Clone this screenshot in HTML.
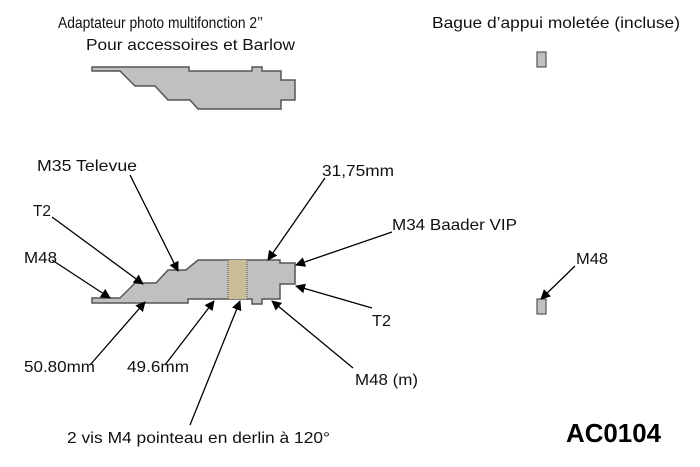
<!DOCTYPE html>
<html><head><meta charset="utf-8"><style>
html,body{margin:0;padding:0;background:#fff;}
svg{display:block;}
text{font-family:"Liberation Sans",sans-serif;font-size:16px;fill:#111;}
</style></head><body>
<svg width="700" height="467" viewBox="0 0 700 467" xmlns="http://www.w3.org/2000/svg">
<defs>
<marker id="a" markerWidth="10" markerHeight="10" refX="9" refY="5" orient="auto" markerUnits="userSpaceOnUse">
<path d="M0,0 L10,5 L0,10 z" fill="#000"/></marker>
</defs>
<text x="58" y="28" textLength="205" lengthAdjust="spacingAndGlyphs">Adaptateur photo multifonction 2’’</text>
<text x="86" y="50" textLength="209" lengthAdjust="spacingAndGlyphs">Pour accessoires et Barlow</text>
<text x="432" y="28" textLength="248" lengthAdjust="spacingAndGlyphs">Bague d’appui moletée (incluse)</text>

<path d="M92,67 L189,67 L189,71 L252,71 L252,67 L262,67 L262,71 L281,71 L281,80 L295,80 L295,100 L281,100 L281,109 L198,109 L190,100 L168,100 L155,86 L135,86 L120,71 L92,71 Z" fill="#c0c0c0" stroke="#555" stroke-width="1.5"/>
<rect x="537" y="52" width="9" height="15" fill="#c0c0c0" stroke="#555" stroke-width="1.2"/>

<path d="M92,298 L120,298 L135,283 L156,283 L168,270 L186,270 L198,260 L280,260 L280,263 L295,263 L295,284 L280,284 L280,299 L262,299 L262,304 L252,304 L252,299 L188,299 L188,303 L92,303 Z" fill="#c0c0c0" stroke="#555" stroke-width="1.5"/>
<rect x="228" y="260" width="19" height="39" fill="#c8bd96"/>
<line x1="228" y1="260" x2="228" y2="299" stroke="#555" stroke-dasharray="1,1"/>
<line x1="247" y1="260" x2="247" y2="299" stroke="#555" stroke-dasharray="1,1"/>
<rect x="537" y="299" width="9" height="15" fill="#c0c0c0" stroke="#555" stroke-width="1.2"/>

<g stroke="#000" stroke-width="1.3" marker-end="url(#a)">
<line x1="130" y1="175" x2="178" y2="271"/>
<line x1="52" y1="217" x2="143" y2="284"/>
<line x1="52" y1="260" x2="110" y2="298"/>
<line x1="325" y1="178" x2="268" y2="260"/>
<line x1="392" y1="232" x2="296" y2="265"/>
<line x1="372" y1="308" x2="296" y2="286"/>
<line x1="353" y1="368" x2="272" y2="301"/>
<line x1="90" y1="365" x2="145" y2="302"/>
<line x1="165" y1="365" x2="214" y2="301"/>
<line x1="190" y1="425" x2="240" y2="301"/>
<line x1="575" y1="266" x2="541" y2="299"/>
</g>

<text x="37" y="171" textLength="100" lengthAdjust="spacingAndGlyphs">M35 Televue</text>
<text x="33" y="216" textLength="18" lengthAdjust="spacingAndGlyphs">T2</text>
<text x="24" y="263" textLength="33" lengthAdjust="spacingAndGlyphs">M48</text>
<text x="24" y="372" textLength="71" lengthAdjust="spacingAndGlyphs">50.80mm</text>
<text x="127" y="372" textLength="62" lengthAdjust="spacingAndGlyphs">49.6mm</text>
<text x="67" y="443" textLength="263" lengthAdjust="spacingAndGlyphs">2 vis M4 pointeau en derlin à 120°</text>
<text x="322" y="176" textLength="72" lengthAdjust="spacingAndGlyphs">31,75mm</text>
<text x="392" y="230" textLength="125" lengthAdjust="spacingAndGlyphs">M34 Baader VIP</text>
<text x="372" y="326" textLength="19" lengthAdjust="spacingAndGlyphs">T2</text>
<text x="355" y="385" textLength="63" lengthAdjust="spacingAndGlyphs">M48 (m)</text>
<text x="576" y="264" textLength="32" lengthAdjust="spacingAndGlyphs">M48</text>
<text x="566" y="442" style="font-size:26px;font-weight:bold;fill:#000" textLength="95" lengthAdjust="spacingAndGlyphs">AC0104</text>
</svg>
</body></html>
